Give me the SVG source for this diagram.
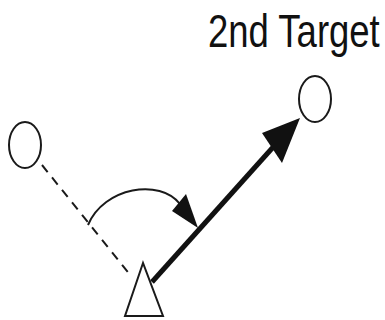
<svg xmlns="http://www.w3.org/2000/svg" width="385" height="320" viewBox="0 0 385 320">
<style>
.node{fill:#fff;stroke:#1a1a1a;stroke-width:2}
.lbl{font-family:"Liberation Sans",Arial,sans-serif;font-size:36.5px;fill:#111}
</style>
<rect width="385" height="320" fill="#fff"/>
<g id="connectors">
<line x1="42" y1="165" x2="131" y2="276" stroke="#1a1a1a" stroke-width="2" stroke-dasharray="9,7"/>
<path d="M88,225 C104,187 160,178 180,204" fill="none" stroke="#1a1a1a" stroke-width="2"/>
<polygon points="172,211 186,194 198,228" fill="#111"/>
<line x1="152" y1="282" x2="275" y2="145" stroke="#111" stroke-width="5"/>
<polygon points="300,118 282,163 262,133" fill="#111"/>
</g>
<g id="first-target"><ellipse class="node" cx="25" cy="145" rx="16" ry="23"/></g>
<g id="second-target"><ellipse class="node" cx="315" cy="99" rx="16" ry="23"/>
<text class="lbl" transform="scale(1,1.27)" x="208" y="37">2nd Target</text></g>
<g id="observer"><polygon class="node" points="143,263 125,316 163,316"/></g>
</svg>
